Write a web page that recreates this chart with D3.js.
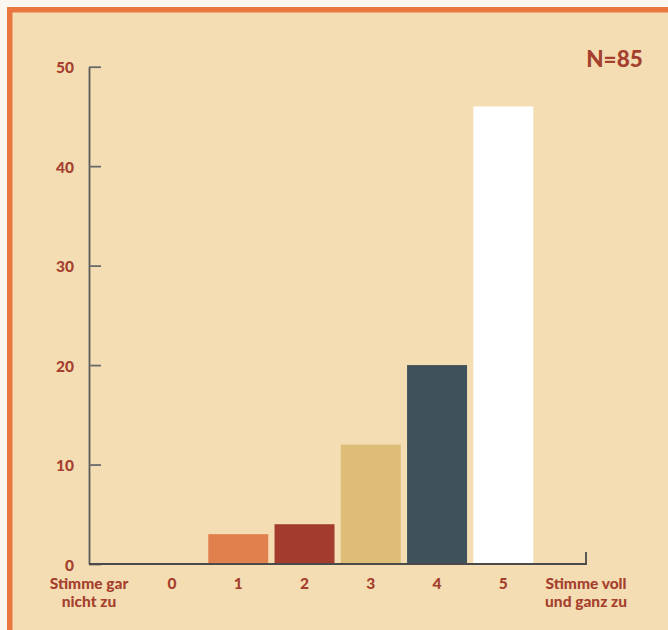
<!DOCTYPE html>
<html>
<head>
<meta charset="utf-8">
<script src="https://cdn.jsdelivr.net/npm/d3@7"></script>
<style>
  html, body { margin: 0; padding: 0; background: #fbf6f0; }
  svg { display: block; }
  text { font-family: Lato, "Open Sans", sans-serif; font-weight: 900; fill: #a5402e; }
</style>
</head>
<body>
<svg id="chart" width="668" height="630"></svg>
<script>
// Antworten auf der Skala 0 bis 5
const categories = ["0", "1", "2", "3", "4", "5"];
const counts = [0, 3, 4, 12, 20, 46];
const barColors = ["#e0814d", "#e0814d", "#a33c2e", "#ddbd78", "#3f5259", "#ffffff"];
const yTicks = [0, 10, 20, 30, 40, 50];
const endLabels = [["Stimme gar", "nicht zu"], ["Stimme voll", "und ganz zu"]];
const sampleLabel = "N=85";

const svg = d3.select("#chart");

// Rahmen und Hintergrund
svg.append("rect").attr("x", 7).attr("y", 7).attr("width", 680).attr("height", 640)
  .attr("fill", "#e9773f");
svg.append("rect").attr("x", 12.5).attr("y", 12.5).attr("width", 670).attr("height", 630)
  .attr("fill", "#f4ddb2");

const axisLeftX = 89, axisRightX = 586;
const y = d3.scaleLinear().domain([0, 50]).range([564, 66.7]);
const x = d3.scaleBand().domain(categories).range([142, 533.3])
  .paddingInner(0.095).paddingOuter(0);

// Balken
svg.append("g").selectAll("rect").data(categories).join("rect")
  .attr("x", d => x(d))
  .attr("y", (d, i) => y(counts[i]))
  .attr("width", x.bandwidth())
  .attr("height", (d, i) => y(0) - y(counts[i]))
  .attr("fill", (d, i) => barColors[i]);

// y-Achse
const yAxis = svg.append("g").attr("transform", `translate(${axisLeftX},0)`)
  .call(d3.axisLeft(y).tickValues(yTicks).tickSizeInner(-12).tickSizeOuter(0).tickPadding(15));
yAxis.select(".domain").attr("stroke", "#5a5a5a").attr("stroke-width", 1.8);
yAxis.selectAll(".tick line").attr("stroke", "#6a6a6a").attr("stroke-width", 1.8);
yAxis.selectAll(".tick text").attr("font-size", 15.5).attr("dy", "0.4em")
  .attr("font-family", null).attr("fill", null);

// x-Achse mit Endmarke rechts
svg.append("path")
  .attr("d", `M${axisLeftX},${y(0)}H${axisRightX}V${y(0) - 12}`)
  .attr("fill", "none").attr("stroke", "#4a4a4a").attr("stroke-width", 1.8);

const xAxis = svg.append("g").attr("transform", `translate(0,${y(0)})`)
  .call(d3.axisBottom(x).tickSize(0).tickPadding(0));
xAxis.select(".domain").remove();
xAxis.selectAll(".tick text").attr("font-size", 15.5).attr("y", 24.5).attr("dy", 0)
  .attr("font-family", null).attr("fill", null);

// Beschriftung der Skalenenden
[axisLeftX, axisRightX].forEach((px, k) => {
  const t = svg.append("text").attr("x", px).attr("y", y(0) + 24.5)
    .attr("text-anchor", "middle").attr("font-size", 15.5);
  endLabels[k].forEach((line, j) => {
    t.append("tspan").attr("x", px).attr("dy", j === 0 ? 0 : 18.5).text(line);
  });
});

// Stichprobengröße
svg.append("text").attr("x", 614.5).attr("y", 67).attr("text-anchor", "middle")
  .attr("font-size", 22.5).text(sampleLabel);
</script>
</body>
</html>
